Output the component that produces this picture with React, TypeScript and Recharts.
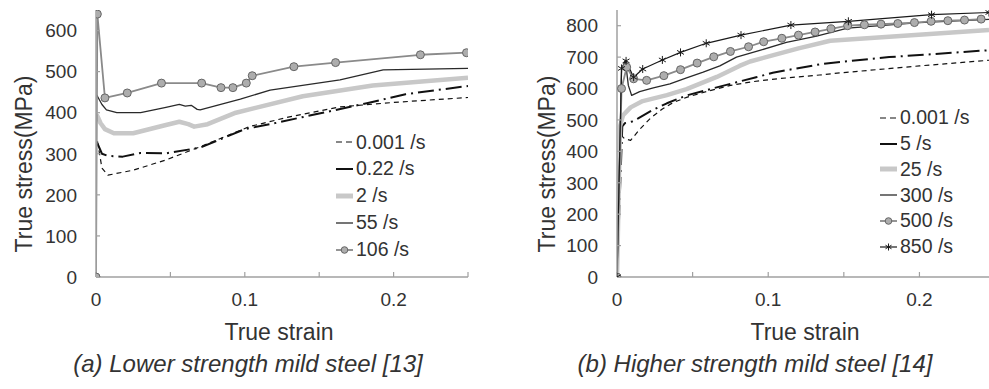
import React from 'react';
import { LineChart, Line, XAxis, YAxis, Legend } from 'recharts';

type Pair = [number, number];

// ---------- (a) Lower strength mild steel ----------
const leftRate0001: Pair[] = [
  [0.001, 330], [0.004, 265], [0.008, 248], [0.025, 260], [0.047, 285], [0.07, 317],
  [0.103, 366], [0.13, 390], [0.164, 414], [0.2, 425], [0.25, 437],
];
const leftRate022: Pair[] = [
  [0.001, 325], [0.004, 300], [0.008, 295], [0.018, 293], [0.03, 302], [0.047, 301],
  [0.07, 315], [0.1, 360], [0.117, 372], [0.15, 398], [0.182, 423], [0.208, 445], [0.25, 465],
];
const leftRate2: Pair[] = [
  [0.0005, 395], [0.003, 375], [0.006, 360], [0.012, 350], [0.025, 350], [0.047, 370],
  [0.056, 378], [0.062, 372], [0.066, 366], [0.075, 372], [0.094, 400], [0.139, 440],
  [0.186, 466], [0.25, 485],
];
const leftRate55: Pair[] = [
  [0.0005, 443], [0.004, 420], [0.007, 407], [0.014, 400], [0.03, 400], [0.047, 413],
  [0.056, 420], [0.06, 416], [0.064, 418], [0.068, 408], [0.07, 407], [0.097, 433],
  [0.117, 455], [0.164, 480], [0.193, 504], [0.25, 508],
];
const leftRate106: Pair[] = [
  [0, 0], [0.0009, 640], [0.006, 436], [0.021, 448], [0.044, 472], [0.071, 472],
  [0.084, 461], [0.092, 461], [0.101, 472], [0.105, 490], [0.133, 512], [0.161, 522],
  [0.218, 541], [0.249, 546],
];
const leftNames = ['0.001 /s', '0.22 /s', '2 /s', '55 /s', '106 /s'];
const leftXTicks = [0, 0.05, 0.1, 0.15, 0.2, 0.25];
const leftXTickLabels = ['0', '', '0.1', '', '0.2', ''];
const leftYTicks = [0, 100, 200, 300, 400, 500, 600];

// ---------- (b) Higher strength mild steel ----------
const rightRate0001: Pair[] = [
  [0, 0], [0.002, 455], [0.005, 440], [0.009, 435], [0.015, 470], [0.022, 505], [0.03, 535],
  [0.037, 555], [0.046, 572], [0.059, 590], [0.075, 610], [0.09, 622], [0.108, 632],
  [0.134, 643], [0.148, 650], [0.2, 672], [0.246, 690],
];
const rightRate5: Pair[] = [
  [0, 0], [0.0035, 480], [0.0053, 490], [0.01, 495], [0.014, 505], [0.023, 530], [0.033, 553],
  [0.046, 578], [0.0615, 598], [0.079, 620], [0.092, 636], [0.103, 650], [0.114, 660],
  [0.134, 677], [0.148, 685], [0.18, 700], [0.21, 710], [0.246, 722],
];
const rightRate25: Pair[] = [
  [0, 0], [0.002, 480], [0.004, 515], [0.009, 540], [0.017, 560], [0.033, 579], [0.046, 598],
  [0.066, 637], [0.081, 672], [0.088, 686], [0.101, 703], [0.12, 728], [0.141, 752],
  [0.18, 765], [0.246, 786],
];
const rightRate300: Pair[] = [
  [0, 0], [0.003, 660], [0.0055, 690], [0.0075, 610], [0.0097, 578], [0.015, 590],
  [0.024, 602], [0.035, 615], [0.046, 634], [0.057, 652], [0.068, 672], [0.079, 700],
  [0.095, 722], [0.112, 747], [0.132, 767], [0.1525, 792], [0.2, 810], [0.246, 820],
];
const rightRate500: Pair[] = [
  [0, 0], [0.003, 600], [0.0064, 668], [0.011, 631], [0.0196, 626], [0.031, 641],
  [0.042, 660], [0.053, 681], [0.064, 701], [0.075, 718], [0.087, 733], [0.097, 749],
  [0.109, 760], [0.12, 770], [0.131, 780], [0.1415, 790], [0.1525, 800], [0.1636, 803],
  [0.1746, 805], [0.1857, 807], [0.1967, 810], [0.2077, 814], [0.2188, 816],
  [0.2298, 818], [0.2408, 821],
];
const rightRate850: Pair[] = [
  [0, 0], [0.003, 664], [0.006, 688], [0.011, 636], [0.017, 662], [0.03, 691], [0.042, 715],
  [0.059, 744], [0.082, 770], [0.115, 802], [0.153, 814], [0.208, 835], [0.246, 842],
];
const rightNames = ['0.001 /s', '5 /s', '25 /s', '300 /s', '500 /s', '850 /s'];
const rightXTicks = [0, 0.05, 0.1, 0.15, 0.2];
const rightXTickLabels = ['0', '', '0.1', '', '0.2'];
const rightYTicks = [0, 100, 200, 300, 400, 500, 600, 700, 800];

const yTitle = 'True stress(MPa)';
const xTitle = 'True strain';
const captionA = '(a) Lower strength mild steel [13]';
const captionB = '(b) Higher strength mild steel [14]';

// ---------- styling ----------
const FONT = '"Liberation Sans", Arial, Helvetica, sans-serif';
const AXIS = '#a0a0a0';
const TXT = '#333333';

type Kind = 'dash' | 'dashdot' | 'thick' | 'thin' | 'circle' | 'star';
type Style = {
  stroke: string; width: number; dash?: string; kind: Kind;
};
const styles: Record<Kind, Style> = {
  dash: { stroke: '#111', width: 1.2, dash: '5 4', kind: 'dash' },
  dashdot: { stroke: '#111', width: 2, dash: '16 5 2 5', kind: 'dashdot' },
  thick: { stroke: '#c8c8c8', width: 4.5, kind: 'thick' },
  thin: { stroke: '#2a2a2a', width: 1.3, kind: 'thin' },
  circle: { stroke: '#8a8a8a', width: 1.8, kind: 'circle' },
  star: { stroke: '#1a1a1a', width: 1.2, kind: 'star' },
};

const toData = (a: Pair[]) => a.map(([x, y]) => ({ x, y }));

const CircleDot = (props: any) => {
  const { cx, cy } = props;
  if (cx == null || cy == null) return null;
  return <circle cx={cx} cy={cy} r={4} fill="#adadad" stroke="#666" strokeWidth={1} />;
};

const StarDot = (props: any) => {
  const { cx, cy } = props;
  if (cx == null || cy == null) return null;
  const r = 4;
  const dx = r * 0.87;
  const dy = r * 0.5;
  return (
    <g stroke="#1a1a1a" strokeWidth={1}>
      <line x1={cx} y1={cy - r} x2={cx} y2={cy + r} />
      <line x1={cx - dx} y1={cy - dy} x2={cx + dx} y2={cy + dy} />
      <line x1={cx - dx} y1={cy + dy} x2={cx + dx} y2={cy - dy} />
    </g>
  );
};

const Sample = ({ s }: { s: Style }) => {
  const stroke = s.kind === 'dashdot' ? '#111' : s.stroke;
  return (
    <svg width={17} height={12} style={{ marginRight: 3, overflow: 'visible', flex: 'none' }}>
      <line
        x1={0} y1={6} x2={17} y2={6}
        stroke={stroke}
        strokeWidth={s.kind === 'thick' ? 5 : s.width}
        strokeDasharray={s.kind === 'dash' ? '6 4' : undefined}
      />
      {s.kind === 'circle' && <circle cx={8.5} cy={6} r={3.3} fill="#adadad" stroke="#666" strokeWidth={1} />}
      {s.kind === 'star' && (
        <g stroke="#1a1a1a" strokeWidth={1}>
          <line x1={8.5} y1={2.5} x2={8.5} y2={9.5} />
          <line x1={5.5} y1={4.2} x2={11.5} y2={7.8} />
          <line x1={5.5} y1={7.8} x2={11.5} y2={4.2} />
        </g>
      )}
    </svg>
  );
};

const LegendBox = ({ names, kinds, rowH }: { names: string[]; kinds: Kind[]; rowH: number }) => (
  <div style={{ fontFamily: FONT, fontSize: 19.5, color: TXT }}>
    {names.map((n, i) => (
      <div key={n} style={{ display: 'flex', alignItems: 'center', height: rowH }}>
        <Sample s={styles[kinds[i]]} />
        <span style={{ lineHeight: 1, whiteSpace: 'nowrap' }}>{n}</span>
      </div>
    ))}
  </div>
);

const renderLine = (key: string, name: string, data: Pair[], kind: Kind) => {
  const s = styles[kind];
  let dot: any = false;
  if (kind === 'circle') dot = <CircleDot />;
  if (kind === 'star') dot = <StarDot />;
  return (
    <Line
      key={key}
      name={name}
      data={toData(data)}
      dataKey="y"
      type="linear"
      stroke={s.stroke}
      strokeWidth={s.width}
      strokeDasharray={s.dash}
      dot={dot}
      activeDot={false}
      isAnimationActive={false}
      strokeLinejoin="round"
    />
  );
};

const tickStyle = { fontSize: 19, fill: TXT, fontFamily: FONT };

const Abs = ({ left, top, children, rotate, style }: any) => (
  <div
    style={{
      position: 'absolute', left, top, whiteSpace: 'nowrap', lineHeight: 1,
      transform: `translate(-50%, -50%)${rotate ? ' rotate(-90deg)' : ''}`,
      fontFamily: FONT, color: TXT, ...style,
    }}
  >
    {children}
  </div>
);

export default function App() {
  const leftKinds: Kind[] = ['dash', 'dashdot', 'thick', 'thin', 'circle'];
  const rightKinds: Kind[] = ['dash', 'dashdot', 'thick', 'thin', 'circle', 'star'];
  const leftSeries = [leftRate0001, leftRate022, leftRate2, leftRate55, leftRate106];
  const rightSeries = [rightRate0001, rightRate5, rightRate25, rightRate300, rightRate500, rightRate850];

  return (
    <div style={{ position: 'absolute', left: 0, top: 0, width: 989, height: 389, background: '#fff', overflow: 'hidden' }}>
      <div style={{ position: 'absolute', left: 0, top: 0 }}>
        <LineChart width={490} height={340} margin={{ top: 10, right: 22, left: 0, bottom: 0 }}>
          <XAxis
            type="number" dataKey="x" domain={[0, 0.25]} ticks={leftXTicks}
            tickFormatter={(v: number) => leftXTickLabels[leftXTicks.indexOf(v)] ?? ''}
            tickSize={-5} tickMargin={21} height={63}
            axisLine={{ stroke: AXIS, strokeWidth: 1.5 }} tickLine={{ stroke: AXIS, strokeWidth: 1.2 }}
            tick={tickStyle} allowDataOverflow
          />
          <YAxis
            type="number" domain={[0, 650]} ticks={leftYTicks} width={96}
            tickSize={-4} tickMargin={23}
            axisLine={{ stroke: AXIS, strokeWidth: 1.5 }} tickLine={{ stroke: AXIS, strokeWidth: 1.2 }}
            tick={tickStyle} allowDataOverflow
          />
          {leftSeries.map((d, i) => renderLine('l' + i, leftNames[i], d, leftKinds[i]))}
          <Legend
            layout="vertical" align="center" verticalAlign="middle"
            wrapperStyle={{ position: 'absolute', left: 336, top: 129, width: 'auto', height: 'auto' }}
            content={() => <LegendBox names={leftNames} kinds={leftKinds} rowH={26.8} />}
          />
        </LineChart>
      </div>

      <div style={{ position: 'absolute', left: 500, top: 0 }}>
        <LineChart width={489} height={340} margin={{ top: 10, right: 0, left: 0, bottom: 0 }}>
          <XAxis
            type="number" dataKey="x" domain={[0, 0.246]} ticks={rightXTicks}
            tickFormatter={(v: number) => rightXTickLabels[rightXTicks.indexOf(v)] ?? ''}
            tickSize={-5} tickMargin={21} height={63}
            axisLine={{ stroke: AXIS, strokeWidth: 1.5 }} tickLine={{ stroke: AXIS, strokeWidth: 1.2 }}
            tick={tickStyle} allowDataOverflow
          />
          <YAxis
            type="number" domain={[0, 850]} ticks={rightYTicks} width={117}
            tickSize={-4} tickMargin={23}
            axisLine={{ stroke: AXIS, strokeWidth: 1.5 }} tickLine={{ stroke: AXIS, strokeWidth: 1.2 }}
            tick={tickStyle} allowDataOverflow
          />
          {rightSeries.map((d, i) => renderLine('r' + i, rightNames[i], d, rightKinds[i]))}
          <Legend
            layout="vertical" align="center" verticalAlign="middle"
            wrapperStyle={{ position: 'absolute', left: 380, top: 105, width: 'auto', height: 'auto' }}
            content={() => <LegendBox names={rightNames} kinds={rightKinds} rowH={25.8} />}
          />
        </LineChart>
      </div>

      <Abs left={24} top={164} rotate style={{ fontSize: 23 }}>{yTitle}</Abs>
      <Abs left={547} top={164} rotate style={{ fontSize: 23 }}>{yTitle}</Abs>
      <Abs left={279} top={332} style={{ fontSize: 23 }}>{xTitle}</Abs>
      <Abs left={805} top={332} style={{ fontSize: 23 }}>{xTitle}</Abs>
      <Abs left={248} top={364} style={{ fontSize: 24, fontStyle: 'italic' }}>{captionA}</Abs>
      <Abs left={755} top={364} style={{ fontSize: 24, fontStyle: 'italic' }}>{captionB}</Abs>
    </div>
  );
}
